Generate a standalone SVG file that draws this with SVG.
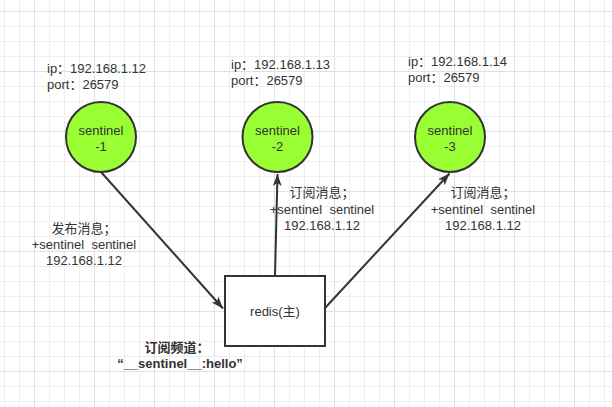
<svg xmlns="http://www.w3.org/2000/svg" width="612" height="407" viewBox="0 0 612 407">
<style>
  text { font-family: "Liberation Sans", "Noto Sans CJK SC", sans-serif; font-size: 13px; fill: #333333; white-space: pre; }
  .c { text-anchor: middle; }
  .b { font-weight: bold; }
  .node { fill: #99ff33; stroke: #333333; stroke-width: 2; }
  .box { fill: #ffffff; stroke: #333333; stroke-width: 2; }
  .edge { fill: none; stroke: #333333; stroke-width: 2; marker-end: url(#arr); }
</style>
<defs>
  <pattern id="grid" x="34" y="11" width="60" height="60" patternUnits="userSpaceOnUse">
    <path d="M15.5,0 V60 M30.5,0 V60 M45.5,0 V60 M0,15.5 H60 M0,30.5 H60 M0,45.5 H60" stroke="#eeeeee" stroke-width="1" fill="none"/>
    <path d="M0.5,0 V60 M0,0.5 H60" stroke="#e0e0e0" stroke-width="1" fill="none"/>
  </pattern>
  <marker id="arr" markerUnits="userSpaceOnUse" markerWidth="13" markerHeight="10" refX="12" refY="4.5" orient="auto">
    <path d="M0,0 L12,4.5 L0,9 L3,4.5 z" fill="#333333"/>
  </marker>
</defs>
<rect width="612" height="407" fill="#ffffff"/>
<rect width="612" height="407" fill="url(#grid)"/>

<g id="connectors">
  <line class="edge" x1="101" y1="172" x2="223" y2="308.5"/>
  <line class="edge" x1="275" y1="276" x2="277.5" y2="174"/>
  <line class="edge" x1="325" y1="308" x2="449.5" y2="173.5"/>
</g>

<g id="sentinel-1">
  <text x="47" y="73">ip：192.168.1.12</text>
  <text x="47" y="89">port：26579</text>
  <circle class="node" cx="101" cy="137" r="35"/>
  <text class="c" x="101" y="135">sentinel</text>
  <text class="c" x="101" y="151">-1</text>
</g>

<g id="sentinel-2">
  <text x="231" y="69">ip：192.168.1.13</text>
  <text x="231" y="85">port：26579</text>
  <circle class="node" cx="277.5" cy="137" r="35"/>
  <text class="c" x="277.5" y="135">sentinel</text>
  <text class="c" x="277.5" y="151">-2</text>
</g>

<g id="sentinel-3">
  <text x="408" y="66">ip：192.168.1.14</text>
  <text x="408" y="82">port：26579</text>
  <circle class="node" cx="450" cy="137" r="35"/>
  <text class="c" x="450" y="135">sentinel</text>
  <text class="c" x="450" y="151">-3</text>
</g>

<g id="redis">
  <rect class="box" x="225" y="276" width="100" height="70"/>
  <text class="c" x="275" y="316">redis(主)</text>
</g>

<g id="label-publish">
  <text class="c" x="84" y="233">发布消息；</text>
  <text class="c" x="84" y="249">+sentinel  sentinel</text>
  <text class="c" x="84" y="265">192.168.1.12</text>
</g>

<g id="label-sub-2">
  <text class="c" x="322" y="197">订阅消息；</text>
  <text class="c" x="322" y="214">+sentinel  sentinel</text>
  <text class="c" x="322" y="230">192.168.1.12</text>
</g>

<g id="label-sub-3">
  <text class="c" x="483" y="197">订阅消息；</text>
  <text class="c" x="483" y="214">+sentinel  sentinel</text>
  <text class="c" x="483" y="230">192.168.1.12</text>
</g>

<g id="label-channel">
  <text class="c b" x="177" y="352">订阅频道：</text>
  <text class="c b" x="180" y="368">“__sentinel__:hello”</text>
</g>
</svg>
